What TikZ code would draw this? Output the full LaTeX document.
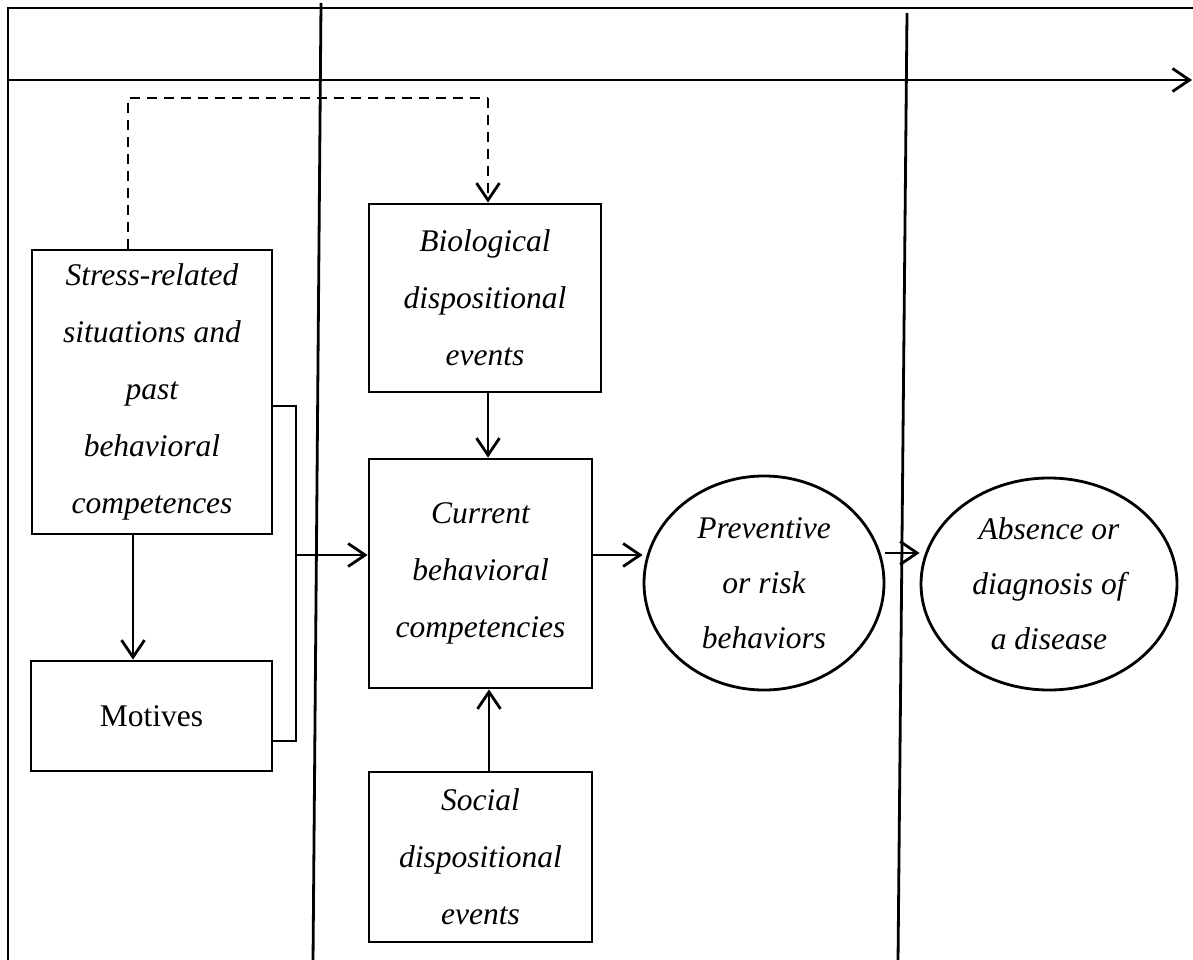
\documentclass[tikz,border=0pt]{standalone}
\usepackage{fontspec}
\setmainfont{Liberation Serif}
\usetikzlibrary{arrows.meta,shapes.geometric,calc}
\begin{document}
\begin{tikzpicture}[x=1pt,y=-1pt,line width=2.8pt,
  arr/.style={-{Straight Barb[length=17pt,width=23pt,line width=2.8pt]}},
  boxnode/.style={draw,rectangle,inner sep=0pt,align=center,font=\fontsize{31.5}{57}\selectfont\itshape},
  ellnode/.style={draw,ellipse,inner sep=0pt,align=center,font=\fontsize{31.5}{55}\selectfont\itshape},
  dashline/.style={dash pattern=on 10pt off 7pt}]
\useasboundingbox (0,0) rectangle (1193,960);
% frame and time axis
\coordinate (fbl) at (8,962);
\coordinate (ftl) at (8,8);
\coordinate (ftr) at (1195,8);
\draw (fbl) -- (ftl) -- (ftr);
\coordinate (axs) at (8,80);
\coordinate (axe) at (1192,80);
\draw[arr] (axs) -- (axe);
% vertical dividers
\coordinate (v1t) at (321,3);
\coordinate (v1b) at (313,962);
\coordinate (v2t) at (907,13);
\coordinate (v2b) at (898,962);
\draw (v1t) -- (v1b);
\draw (v2t) -- (v2b);
% nodes
\node[boxnode,minimum width=240pt,minimum height=284pt] (stress) at (152,392)
  {Stress-related\\situations and\\past\\behavioral\\competences};
\node[boxnode,minimum width=241pt,minimum height=110pt,font=\fontsize{31.5}{38}\selectfont] (motives) at (151.5,716) {Motives};
\node[boxnode,minimum width=232pt,minimum height=188pt] (bio) at (485,298)
  {Biological\\dispositional\\events};
\node[boxnode,minimum width=223pt,minimum height=229pt] (current) at (480.5,573.5)
  {Current\\behavioral\\competencies};
\node[boxnode,minimum width=223pt,minimum height=170pt] (social) at (480.5,857)
  {Social\\dispositional\\events};
\node[ellnode,minimum width=240pt,minimum height=214pt] (prev) at (764,583)
  {Preventive\\or risk\\behaviors};
\node[ellnode,minimum width=256pt,minimum height=212pt] (abs) at (1049,584)
  {Absence or\\diagnosis of\\a disease};
% dashed feedback
\coordinate (d1) at (128,98);
\coordinate (d2) at (488,98);
\draw[dashline] (stress.north -| d1) -- (d1) -- (d2);
\draw[dashline,arr] (d2) -- (bio.north -| d2);
% stress -> motives
\coordinate (sm) at (133,0);
\draw[arr] (stress.south -| sm) -- (motives.north -| sm);
% bracket
\coordinate (bt) at (296,406);
\coordinate (bb) at (296,741);
\coordinate (bm) at (296,555);
\draw (stress.east |- bt) -- (bt) -- (bb) -- (motives.east |- bb);
\draw[arr] (bm) -- (current.west |- bm);
% bio -> current, social -> current
\coordinate (bc) at (488,0);
\draw[arr] (bio.south -| bc) -- (current.north -| bc);
\coordinate (sc) at (489,0);
\draw[arr] (social.north -| sc) -- (current.south -| sc);
% current -> preventive -> absence
\coordinate (cp) at (0,555);
\draw[arr] (current.east |- cp) -- (prev.west |- cp);
\coordinate (pa) at (0,553);
\draw[arr] (prev.east |- pa) -- (abs.west |- pa);
\end{tikzpicture}
\end{document}
